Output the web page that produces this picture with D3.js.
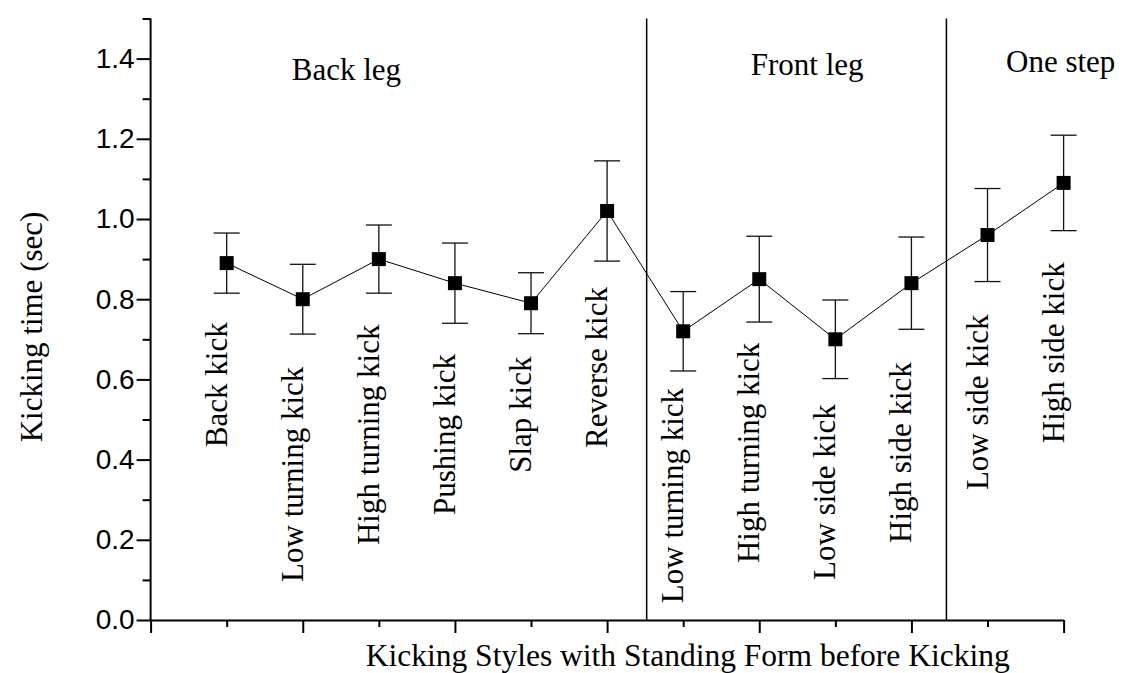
<!DOCTYPE html>
<html>
<head>
<meta charset="utf-8">
<script src="https://cdn.jsdelivr.net/npm/d3@7"></script>
<style>
  html, body { margin: 0; padding: 0; background: #fff; }
  svg { display: block; }
</style>
</head>
<body>
<svg id="chart" width="1128" height="673"></svg>
<script>
// Kicking styles, in the order they are plotted
const kickStyles = [
  "Back kick", "Low turning kick", "High turning kick", "Pushing kick",
  "Slap kick", "Reverse kick",
  "Low turning kick", "High turning kick", "Low side kick", "High side kick",
  "Low side kick", "High side kick"
];
// Mean kicking time (sec)
const meanTime = [0.89, 0.80, 0.90, 0.84, 0.79, 1.02, 0.72, 0.85, 0.70, 0.84, 0.96, 1.09];
// Standard deviation (sec)
const sdTime = [0.075, 0.087, 0.085, 0.10, 0.076, 0.125, 0.099, 0.107, 0.098, 0.115, 0.116, 0.119];

// Standing-form groups
const groupNames = ["Back leg", "Front leg", "One step"];

// Y tick values
const yMajorTicks = [0.0, 0.2, 0.4, 0.6, 0.8, 1.0, 1.2, 1.4];
const yMinorTicks = [0.1, 0.3, 0.5, 0.7, 0.9, 1.1, 1.3, 1.5];

// ---- layout (positions in axis units) ----
const labelStart = [0.431, 0.095, 0.187, 0.262, 0.367, 0.429, 0.042, 0.142, 0.100, 0.192, 0.324, 0.441];
const groupLabelX = [1.855, 7.888, 11.243];
const groupLabelY = [1.347, 1.360, 1.366];
const dividerX = [6.52, 10.46];

const svg = d3.select("#chart");

const x = d3.scaleLinear().domain([0, 12]).range([150.6, 1063.6]);
const y = d3.scaleLinear().domain([0, 1.5]).range([620, 18.5]);

const serif = "'Liberation Serif', 'Times New Roman', serif";
const sans = "'Liberation Sans', Arial, sans-serif";

// ---- axes ----
const yAxisMajor = d3.axisLeft(y).tickValues(yMajorTicks).tickSize(14).tickPadding(2)
  .tickFormat(d3.format(".1f"));
const yAxisMinor = d3.axisLeft(y).tickValues(yMinorTicks).tickSize(8).tickFormat("");

const gy = svg.append("g").attr("transform", `translate(${x(0)},0)`);
gy.call(yAxisMajor);
svg.append("g").attr("transform", `translate(${x(0)},0)`).call(yAxisMinor)
  .select(".domain").remove();

const xMajor = [0, 2, 4, 6, 8, 10, 12];
const xMinor = [1, 3, 5, 7, 9, 11];
const gx = svg.append("g").attr("transform", `translate(0,${y(0)})`);
gx.call(d3.axisBottom(x).tickValues(xMajor).tickSize(13).tickSizeOuter(0).tickFormat(""));
svg.append("g").attr("transform", `translate(0,${y(0)})`)
  .call(d3.axisBottom(x).tickValues(xMinor).tickSize(7).tickFormat(""))
  .select(".domain").remove();

svg.selectAll(".domain").attr("stroke", "#000").attr("stroke-width", 2);
svg.selectAll(".tick line").attr("stroke", "#000").attr("stroke-width", 2);
gy.selectAll(".tick text")
  .attr("font-family", sans).attr("font-size", 28).attr("fill", "#000");
gy.select(".domain").attr("d", `M0,${y(1.5)}V${y(0)}`);

// ---- group dividers ----
svg.append("g").selectAll("line").data(dividerX).join("line")
  .attr("x1", d => x(d)).attr("x2", d => x(d))
  .attr("y1", y(1.5)).attr("y2", y(0))
  .attr("stroke", "#000").attr("stroke-width", 1.5);

// ---- group titles ----
svg.append("g").selectAll("text").data(groupNames).join("text")
  .attr("x", (d, i) => x(groupLabelX[i]))
  .attr("y", (d, i) => y(groupLabelY[i]))
  .attr("font-family", serif).attr("font-size", 31).attr("fill", "#000")
  .text(d => d);

// ---- category labels (vertical) ----
svg.append("g").selectAll("text").data(kickStyles).join("text")
  .attr("transform", (d, i) => `translate(${x(i + 1)},${y(labelStart[i])}) rotate(-90)`)
  .attr("font-family", serif).attr("font-size", 31).attr("fill", "#000")
  .text(d => d);

// ---- error bars ----
const eb = svg.append("g").attr("stroke", "#111").attr("stroke-width", 1.3);
meanTime.forEach((m, i) => {
  const cx = x(i + 1);
  const lo = y(m - sdTime[i]);
  const hi = y(m + sdTime[i]);
  eb.append("line").attr("x1", cx).attr("x2", cx).attr("y1", hi).attr("y2", lo);
  eb.append("line").attr("x1", cx - 13).attr("x2", cx + 13).attr("y1", hi).attr("y2", hi);
  eb.append("line").attr("x1", cx - 13).attr("x2", cx + 13).attr("y1", lo).attr("y2", lo);
});

// ---- connecting line ----
const line = d3.line().x((d, i) => x(i + 1)).y(d => y(d));
svg.append("path").datum(meanTime)
  .attr("d", line).attr("fill", "none").attr("stroke", "#000").attr("stroke-width", 1);

// ---- mean markers ----
svg.append("g").selectAll("rect").data(meanTime).join("rect")
  .attr("x", (d, i) => x(i + 1) - 7).attr("y", d => y(d) - 7)
  .attr("width", 14).attr("height", 14).attr("fill", "#000");

// ---- axis titles ----
svg.append("text")
  .attr("x", x(7.06)).attr("y", 666)
  .attr("text-anchor", "middle")
  .attr("font-family", serif).attr("font-size", 31.5).attr("fill", "#000")
  .text("Kicking Styles with Standing Form before Kicking");

svg.append("text")
  .attr("transform", `translate(42,327) rotate(-90)`)
  .attr("text-anchor", "middle")
  .attr("font-family", serif).attr("font-size", 31).attr("fill", "#000")
  .text("Kicking time (sec)");
</script>
</body>
</html>
